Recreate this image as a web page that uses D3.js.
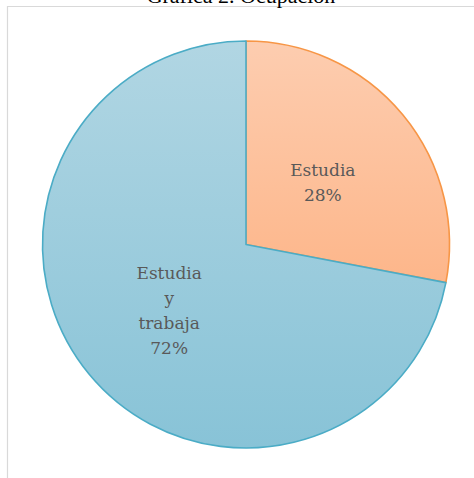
<!DOCTYPE html>
<html>
<head>
<meta charset="utf-8">
<script src="https://cdn.jsdelivr.net/npm/d3@7"></script>
<style>
  html, body { margin: 0; padding: 0; background: #ffffff; }
  svg { display: block; }
</style>
</head>
<body>
<script>
// Ocupación de los encuestados
const categories = ["Estudia", "Estudia y trabaja"];
const values = [28, 72];
const labelLines = [["Estudia", "28%"], ["Estudia", "y", "trabaja", "72%"]];
const fillTop = ["#fdcdb0", "#b1d6e3"];
const fillBottom = ["#fdb68a", "#88c3d7"];
const strokes = ["#f79646", "#4bacc6"];
const title = "Gráfica 2. Ocupación";

const W = 474, H = 478;
const cx = 246, cy = 244.5, r = 203.5;

const svg = d3.select("body").append("svg")
  .attr("width", W).attr("height", H);

// chart frame
svg.append("path")
  .attr("d", `M7.5,${H} L7.5,6.5 L${W},6.5`)
  .attr("fill", "none")
  .attr("stroke", "#d9d9d9")
  .attr("stroke-width", 1.2);

// title (partly above the visible area)
svg.append("text")
  .attr("x", 241).attr("y", 3)
  .attr("text-anchor", "middle")
  .attr("font-family", "'Liberation Serif', serif")
  .attr("font-size", 22)
  .attr("fill", "#000")
  .text(title);

const defs = svg.append("defs");
categories.forEach((c, i) => {
  const g = defs.append("linearGradient")
    .attr("id", "grad" + i)
    .attr("x1", 0).attr("y1", 0).attr("x2", 0).attr("y2", 1);
  g.append("stop").attr("offset", "0%").attr("stop-color", fillTop[i]);
  g.append("stop").attr("offset", "100%").attr("stop-color", fillBottom[i]);
});

const pie = d3.pie().sort(null).value(d => d)(values);
const arc = d3.arc().innerRadius(0).outerRadius(r);
const labelArc = d3.arc().innerRadius(r * 0.49).outerRadius(r * 0.49);

const g = svg.append("g").attr("transform", `translate(${cx},${cy})`);

g.selectAll("path.slice")
  .data(pie)
  .join("path")
  .attr("class", "slice")
  .attr("d", arc)
  .attr("fill", (d, i) => `url(#grad${i})`)
  .attr("stroke", (d, i) => strokes[i])
  .attr("stroke-width", 1.6)
  .attr("stroke-linejoin", "round");

const lineH = 25;
pie.forEach((d, i) => {
  const [lx, ly] = labelArc.centroid(d);
  const lines = labelLines[i];
  const t = g.append("text")
    .attr("text-anchor", "middle")
    .attr("font-family", "'DejaVu Serif', serif")
    .attr("font-size", 17)
    .attr("fill", "#595959");
  const startY = ly - (lines.length - 1) * lineH / 2 + 8;
  lines.forEach((s, k) => {
    t.append("tspan")
      .attr("x", lx)
      .attr("y", startY + k * lineH)
      .text(s);
  });
});
</script>
</body>
</html>
